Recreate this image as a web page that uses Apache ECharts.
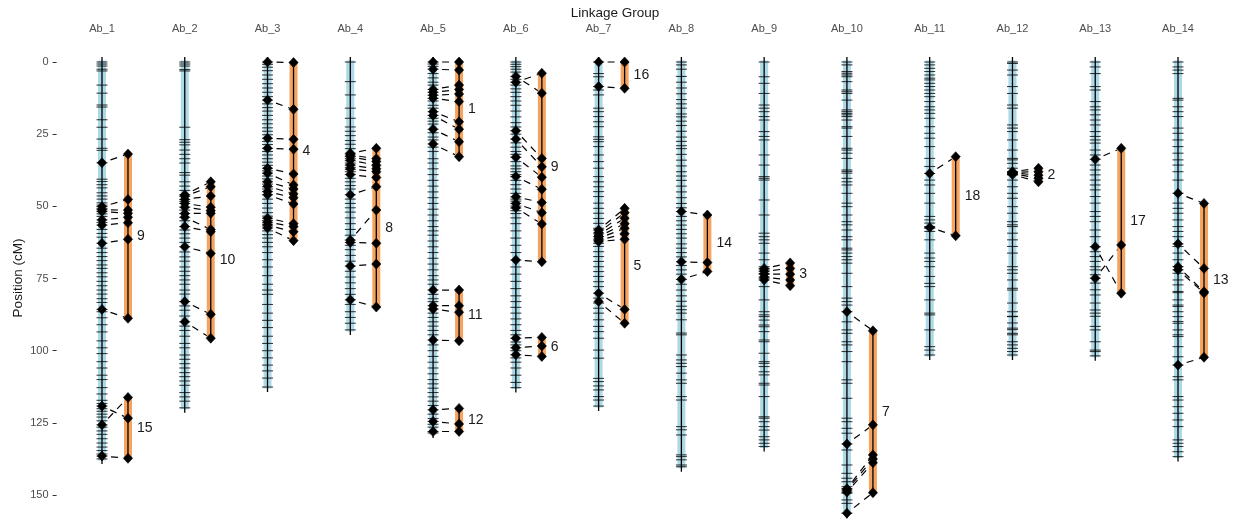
<!DOCTYPE html>
<html>
<head>
<meta charset="utf-8">
<title>Linkage map with QTL intervals</title>
<script src="https://cdn.jsdelivr.net/npm/echarts@6/dist/echarts.min.js"></script>
<style>
  html, body { margin: 0; padding: 0; background: #ffffff; }
  #chart { width: 1238px; height: 521px; }
</style>
</head>
<body>
<div id="chart"></div>
<script>
// Linkage groups (x categories)
const groups = ['Ab_1','Ab_2','Ab_3','Ab_4','Ab_5','Ab_6','Ab_7','Ab_8','Ab_9','Ab_10','Ab_11','Ab_12','Ab_13','Ab_14'];

// Y axis ticks (cM)
const yTicks = [0, 25, 50, 75, 100, 125, 150];

// Marker positions (cM) per linkage group
const ab1Markers = [0,0.7,1.4,2.5,3.1,8,10.8,14.9,15.6,20,22.6,26.7,29.9,30.6,34.9,40.6,41.4,42.5,43.6,45.3,46.4,47.5,48.8,49.6,50.1,50.8,51.2,51.8,52.6,53.5,54.7,55.6,56.5,58,59.4,60.7,62.8,64.5,66,67.4,68.8,70.3,71.5,73,74.4,76,77.5,79,80.4,82,83.3,85.7,86.5,88.6,91,93.5,96.6,99,101,103.8,106,108.5,110,112.8,115,117.2,118.3,119.2,120.1,121,122,123,124.3,125.7,126.5,127.8,129,130.5,132,133.4,134.6,135.8,136.5,137.5];
const ab2Markers = [0,0.7,1.4,2.6,3.1,22.6,26.9,27.8,28.7,30.5,32,33.5,35,38.3,39.2,41.5,43,44.5,46,46.5,47.6,48.3,49,50.3,51.3,52.5,53.8,55,57,58.2,59.5,61,62.5,64,65.8,67.5,69,71,72.5,74,75.5,77,79,80.4,83,84.5,86,88,90,91.5,93,95,97.5,99,101.5,103,104.5,106,107.6,109,110.5,112,114.5,116,117.5,119.8];
const ab3Markers = [0,0.8,1.8,3,4.5,6,7.5,9,10.5,12,13.2,14.5,15.8,17,18.5,20,21.4,22.8,24,25.2,26.4,27.5,28.6,29.9,31,32.2,33.5,34.7,35.8,36.8,37.7,38.5,39.5,40.5,41.5,42.3,43.2,44,44.9,46,47.5,49,50.6,52.2,53.4,54.1,54.9,55.5,56.2,56.8,57.5,58.5,59.8,61,62.5,64,66,68.5,71,74,77,79,80.5,84,87,89.5,92,95,97.5,100,102.5,105,107,109.5,112.6];
const ab4Markers = [0,6.8,11.4,16,19.5,22.5,24,25.5,27.2,28.5,30,31.6,32.2,32.8,33.5,34.2,35,35.7,36.5,37.2,38,39,40.3,41.5,42.8,44,46,47.5,49,50.5,52,54,56,58,60,61.7,62.5,63.5,65,67,69,70.7,72.5,74.5,76.5,78.5,80.5,82.4,84,86.5,88.5,90.5,92.8];
const ab5Markers = [0,0.7,1.5,2.5,4,5.5,7,8,9.5,10.5,11.5,12.6,13.5,15,16,17.2,18.5,19.5,20.5,21.5,23.3,24.5,26,27,28.4,29.5,31,33.5,35,37,39,41,43,45,47,49,51,53,55,57,58.5,60,62,64,66,68,70,72,74,75.5,77,79,80.5,82,83,84.4,85.6,87,88.5,90,91.5,93,94.5,96.3,98,100,102,104,106,108,110,111.5,113,114.5,116,117.5,119,120.5,122,123.5,124.5,125.5,126.5,128,128.5];
const ab6Markers = [0,0.8,1.6,2.5,3.5,5,6,7,8,9.3,10.5,12,13.5,15,17,19,21,22.5,23.8,25,26.7,28,29.5,31,32,33,34.5,36,37,38,39,39.7,41,42.5,44,45.5,46.7,47.5,48.2,49,49.9,50.6,51.5,52.5,54,56,58.5,61,63.5,66,68.6,71,73.5,76,78.5,81,83,85,87,89,91,93,94.5,95.7,97,98,99,100,101.4,102.5,104,106,108.5,111,112.8];
const ab7Markers = [0,4,5.1,8.5,9.7,11.4,16,17.2,18.9,20.7,22.4,25.9,26.8,27.6,29.3,32.2,34.5,36.8,39.7,41.5,43.2,44.9,46.6,48.9,50.7,52.4,54.2,55.9,57.6,58.2,59.3,60.5,61.6,62.8,63.9,65.7,67.4,69.1,70.9,72.6,74.3,76.1,77.8,80.1,81.8,83.5,85.3,87,89.3,91.6,93.4,95.7,99.8,102.6,109.6,110.7,112.2,113.6,115.9,117.1,119.2];
const ab8Markers = [0,1,2.5,5,7,9,11,13,14.5,16,18,19,20.5,22,24,26,27.5,29,30,32,34,36,38,39.5,41,43,45,47,49,50.5,51.8,53.5,55,56.5,58,59.5,61,63,64.5,66,67.5,69.2,70.5,72,73.5,75.3,77,79,81,82.9,84.6,85.8,87,89.3,93.9,94.5,101.5,103.2,104.4,105.5,107.8,110.1,111.3,115.9,117.1,126.3,127.4,129.2,136.1,136.7,137.8,139.6,140.2];
const ab9Markers = [0,5.1,7.4,10.9,14.9,16,17.2,18.9,20.1,24.1,25.8,27,32.2,35.7,39.7,40.3,40.9,47.8,53,59.3,60.5,61.6,62.8,66.2,68.5,70.9,71.5,72,72.5,73.2,73.5,74.5,74.9,75.5,77.8,82.4,86.5,87.6,88.2,89.4,91.1,91.7,93.4,96.3,96.9,100.9,103.8,104.4,105.5,107.3,108.4,111.3,111.9,115.9,122.9,123.4,124.6,126.3,127.5,129.8,130.9,132.1,133.2];
const ab10Markers = [0,1,3.3,3.9,4.5,5.1,6.8,9.7,10.3,10.9,13.2,16.6,17.2,17.8,18.3,18.9,20.1,22.4,22.9,25.8,29.9,30.5,31.6,33.4,37.4,37.9,38.5,40.3,41.5,42.6,45.5,48.9,50.1,53,55.3,56.4,58.2,60.5,61.6,64.5,65.1,66.2,67.4,68.5,69.7,73.2,77.8,81.8,83,84.2,86.5,90,92.8,94,96.9,98,100.3,103.8,110.1,111.3,116.5,123.4,124.6,126.9,128.6,132.3,134.4,139.6,142.5,144.2,145.4,147.1,147.8,148.3,149,149.4,151.7,152.9,156.3];
const ab11Markers = [0,1,2.2,3.3,4.5,5.6,6.2,7.4,8.5,9.7,10.9,12,13.7,15.5,16.6,17.8,19.5,22.4,24.7,26.4,29.3,33.4,36.2,38.6,40.9,42.6,45.5,48.9,53.5,54.7,55.8,57,57.3,57.6,58.7,61.6,66.2,67.9,69.1,70.9,74.3,76.7,77.8,82.4,87,87.6,92.8,98.6,99.8,101.5];
const ab12Markers = [0,0.5,2.8,4.5,8.5,10.9,14.9,16,21.8,22.9,24.1,27,30.5,33.4,33.9,35.1,36.8,38,38.2,38.4,38.6,39,39.1,40.9,43.2,45.5,47.2,50.1,52.4,55.3,56.4,57,59.3,61.6,63.9,66.2,70.9,72,73.2,75.5,78.4,79,83.5,86.5,88.1,88.2,90.4,92.2,92.7,94,94.5,96.9,98,99.2,100.3,101.5];
const ab13Markers = [0,1.7,4,8.5,9.7,13.7,15.5,16.6,18.3,20.1,21.8,24.1,25.8,27,28.1,30.5,32.2,33.7,35.7,37.4,39.1,40.9,42.6,44.3,46.6,48.9,51.8,53.5,55.3,58.2,60.5,64,65.7,67.4,69.1,70.9,72,73.7,74.9,76.6,78.9,80.7,83.5,85.9,87,88.1,91.6,92.8,96.9,99.8,100.3,101.8];
const ab14Markers = [0,1.7,2.8,4,12.6,13.2,15.5,17.2,18.9,22.9,24.7,27,29.3,31.6,33.9,35.7,38,40.9,45.5,48.9,50.7,52.4,54.7,57,58.7,60.5,63,63.9,66.2,68.5,70.9,72,73.2,75.5,77.2,79.5,79.9,82.4,84.2,84.7,86.5,88.2,89.9,90.5,92.8,94.5,95.1,98.6,102.1,105,109,110.1,115.9,117.1,119.4,121.7,124,126.3,130.9,132.1,133.2,135,136.7];

const markerSets = [ab1Markers, ab2Markers, ab3Markers, ab4Markers, ab5Markers, ab6Markers, ab7Markers,
  ab8Markers, ab9Markers, ab10Markers, ab11Markers, ab12Markers, ab13Markers, ab14Markers];

// QTL intervals: label, linkage group, linked marker positions on the group,
// and the matching positions along the QTL interval
const qtlNames = ['9','15','10','4','8','1','11','12','9','6','16','5','14','3','7','18','2','17','13'];
const qtlGroups = ['Ab_1','Ab_1','Ab_2','Ab_3','Ab_4','Ab_5','Ab_5','Ab_5','Ab_6','Ab_6','Ab_7','Ab_7','Ab_8','Ab_9','Ab_10','Ab_11','Ab_12','Ab_13','Ab_14'];
const qtlMapPos = [
  [34.9,50.1,51.2,51.8,54.7,56.5,62.8,85.7],
  [125.7,119.2,136.5],
  [46,46.5,47.6,49,50.3,52.5,53.8,57,64,83,90],
  [0,13.2,26.4,29.9,36.8,38.5,41.5,43,44.9,46,54.1,55.5,56.5,57.5],
  [31.6,32.2,32.8,34,35.7,37,39,46,61.7,62.5,70.7,82.4],
  [0,2.5,9.5,10.5,11.5,12.6,17.2,18.5,23.3,28.4],
  [79,84.4,85.6,96.3],
  [120.5,124.5,128],
  [7,5,23.8,26.7,33,39.7,46.7,49,50.5,68.6],
  [95.7,99,101.4],
  [0,8.5],
  [58.2,59.1,59.9,60.5,61.1,61.8,62.2,80.1,83],
  [51.8,69.2,75.3],
  [71.5,72.5,73.5,74.5,75.5],
  [86.5,132.3,147.8,148.3,149,156.3],
  [38.6,57.3],
  [38,38.2,38.4,38.6,39],
  [33.7,64,74.9],
  [45.5,63,70.9,72,105]
];
const qtlBarPos = [
  [31.9,47.6,51.3,52.4,53.8,55.7,61.4,88.8],
  [116.2,123.4,137.3],
  [41.5,43.2,46.4,50.3,51.5,52.4,58,58.8,66.3,87.4,95.7],
  [0.2,16.4,26.8,30.2,38.8,42.6,44,45.7,47,49.2,56,57,58.8,61.9],
  [29.9,33.5,34.5,35.8,37,38,40,43.2,51.3,62.8,70,84.9],
  [0,2.8,8,9.5,11.1,13.7,20.7,23.3,27.6,32.8],
  [79,84.4,86.7,96.6],
  [120,125.4,128],
  [3.9,10.8,33.4,36.3,39.9,44.1,48.7,52.2,56.1,69.2],
  [95.4,98.4,102],
  [0,9.1],
  [50.7,52.2,54.1,56,57.6,59.5,61.4,85.7,90.5],
  [53,69.5,72.6],
  [69.6,71.5,73.5,75.5,77.5],
  [93.1,125.7,136.1,137.5,138.8,149.2],
  [32.8,60.2],
  [36.8,38,39.2,40.3,41.5],
  [29.9,80.1,63.4],
  [49,71.5,79.6,80,102.3]
];

// Drawing style
const BAR_W = 8;          // width of the linkage group / QTL bars (px)
const TICK_HALF = 5.5;    // half length of a marker tick (px)
const QTL_SHIFT = 26;     // horizontal distance from group to QTL bar (px)
const DIA_RX = 4.6, DIA_RY = 5;
const BLUE = '#ADD8E6';
const ORANGE = '#F4A460';
const INK = '#000000';
const FONT = 'Liberation Sans, Arial, sans-serif';
// link dash: starts with a gap so the first stroke sits between the two bars
const LINK_DASH = [0, 9, 7, 6, 7, 6, 7, 6];

function diamond(x, y) {
  return {
    type: 'polygon',
    shape: { points: [[x, y - DIA_RY], [x + DIA_RX, y], [x, y + DIA_RY], [x - DIA_RX, y]] },
    style: { fill: INK, stroke: INK, lineWidth: 0.6 }
  };
}

function renderGroup(params, api) {
  const gi = api.value(0);
  const markers = markerSets[gi];
  const lo = markers[0], hi = markers[markers.length - 1];
  const pTop = api.coord([gi, lo]);
  const pBot = api.coord([gi, hi]);
  const x = pTop[0];
  const children = [];
  children.push({
    type: 'rect',
    shape: { x: x - BAR_W / 2, y: pTop[1] - 1.5, width: BAR_W, height: pBot[1] - pTop[1] + 3 },
    style: { fill: BLUE }
  });
  children.push({
    type: 'line',
    shape: { x1: x, y1: pTop[1] - 5, x2: x, y2: pBot[1] + 5 },
    style: { stroke: INK, lineWidth: 1.3 }
  });
  markers.forEach(function (m) {
    const y = api.coord([gi, m])[1];
    children.push({
      type: 'line',
      shape: { x1: x - TICK_HALF, y1: y, x2: x + TICK_HALF, y2: y },
      style: { stroke: 'rgba(0,0,0,0.75)', lineWidth: 1.1 }
    });
  });
  return { type: 'group', children: children };
}

function renderQtl(params, api) {
  const qi = api.value(0);
  const gi = groups.indexOf(qtlGroups[qi]);
  const mapPos = qtlMapPos[qi];
  const barPos = qtlBarPos[qi];
  const x = api.coord([gi, 0])[0];
  const xq = x + QTL_SHIFT;
  const lo = Math.min.apply(null, barPos), hi = Math.max.apply(null, barPos);
  const yLo = api.coord([gi, lo])[1], yHi = api.coord([gi, hi])[1];
  const children = [];
  // dashed links between marker and QTL interval
  mapPos.forEach(function (m, k) {
    const y1 = api.coord([gi, m])[1];
    const y2 = api.coord([gi, barPos[k]])[1];
    children.push({
      type: 'line',
      shape: { x1: x, y1: y1, x2: xq, y2: y2 },
      style: { stroke: INK, lineWidth: 1.2, lineDash: LINK_DASH }
    });
  });
  children.push({
    type: 'rect',
    shape: { x: xq - BAR_W / 2, y: yLo, width: BAR_W, height: yHi - yLo },
    style: { fill: ORANGE }
  });
  children.push({
    type: 'line',
    shape: { x1: xq, y1: yLo, x2: xq, y2: yHi },
    style: { stroke: INK, lineWidth: 1.3 }
  });
  mapPos.forEach(function (m) { children.push(diamond(x, api.coord([gi, m])[1])); });
  barPos.forEach(function (b) { children.push(diamond(xq, api.coord([gi, b])[1])); });
  children.push({
    type: 'text',
    style: {
      text: qtlNames[qi], x: xq + 9, y: (yLo + yHi) / 2,
      fill: '#1a1a1a', fontSize: 14, fontFamily: FONT,
      align: 'left', verticalAlign: 'middle'
    }
  });
  return { type: 'group', children: children };
}

const chart = echarts.init(document.getElementById('chart'), null, { renderer: 'canvas' });
chart.setOption({
  animation: false,
  backgroundColor: '#ffffff',
  textStyle: { fontFamily: FONT },
  graphic: [
    {
      type: 'text', x: 615, y: 13,
      style: { text: 'Linkage Group', fill: '#1a1a1a', fontSize: 13.5, fontFamily: FONT, align: 'center', verticalAlign: 'middle' }
    },
    {
      type: 'text', x: 18, y: 278, rotation: Math.PI / 2,
      style: { text: 'Position (cM)', fill: '#1a1a1a', fontSize: 13.5, fontFamily: FONT, align: 'center', verticalAlign: 'middle' }
    }
  ],
  grid: { left: 60.6, right: 18.6, top: 62, height: 433, outerBoundsMode: 'none', containLabel: false },
  xAxis: {
    type: 'category',
    position: 'top',
    data: groups,
    boundaryGap: true,
    axisLine: { show: false },
    axisTick: { show: false },
    axisLabel: { color: '#4d4d4d', fontSize: 11, margin: 28 },
    splitLine: { show: false }
  },
  yAxis: {
    type: 'value',
    inverse: true,
    min: yTicks[0],
    max: yTicks[yTicks.length - 1],
    interval: 25,
    offset: 4,
    axisLine: { show: false },
    axisTick: { show: true, length: 4, lineStyle: { color: '#333333' } },
    axisLabel: { color: '#4d4d4d', fontSize: 11, margin: 8 },
    splitLine: { show: false }
  },
  series: [
    {
      type: 'custom',
      name: 'groups',
      renderItem: renderGroup,
      data: groups.map(function (g, i) { return [i, markerSets[i][markerSets[i].length - 1]]; }),
      encode: { x: 0, y: 1 },
      clip: false,
      silent: true
    },
    {
      type: 'custom',
      name: 'qtl',
      renderItem: renderQtl,
      data: qtlNames.map(function (n, i) { return [i, qtlBarPos[i][0]]; }),
      encode: { y: 1 },
      clip: false,
      silent: true
    }
  ]
});
</script>
</body>
</html>
